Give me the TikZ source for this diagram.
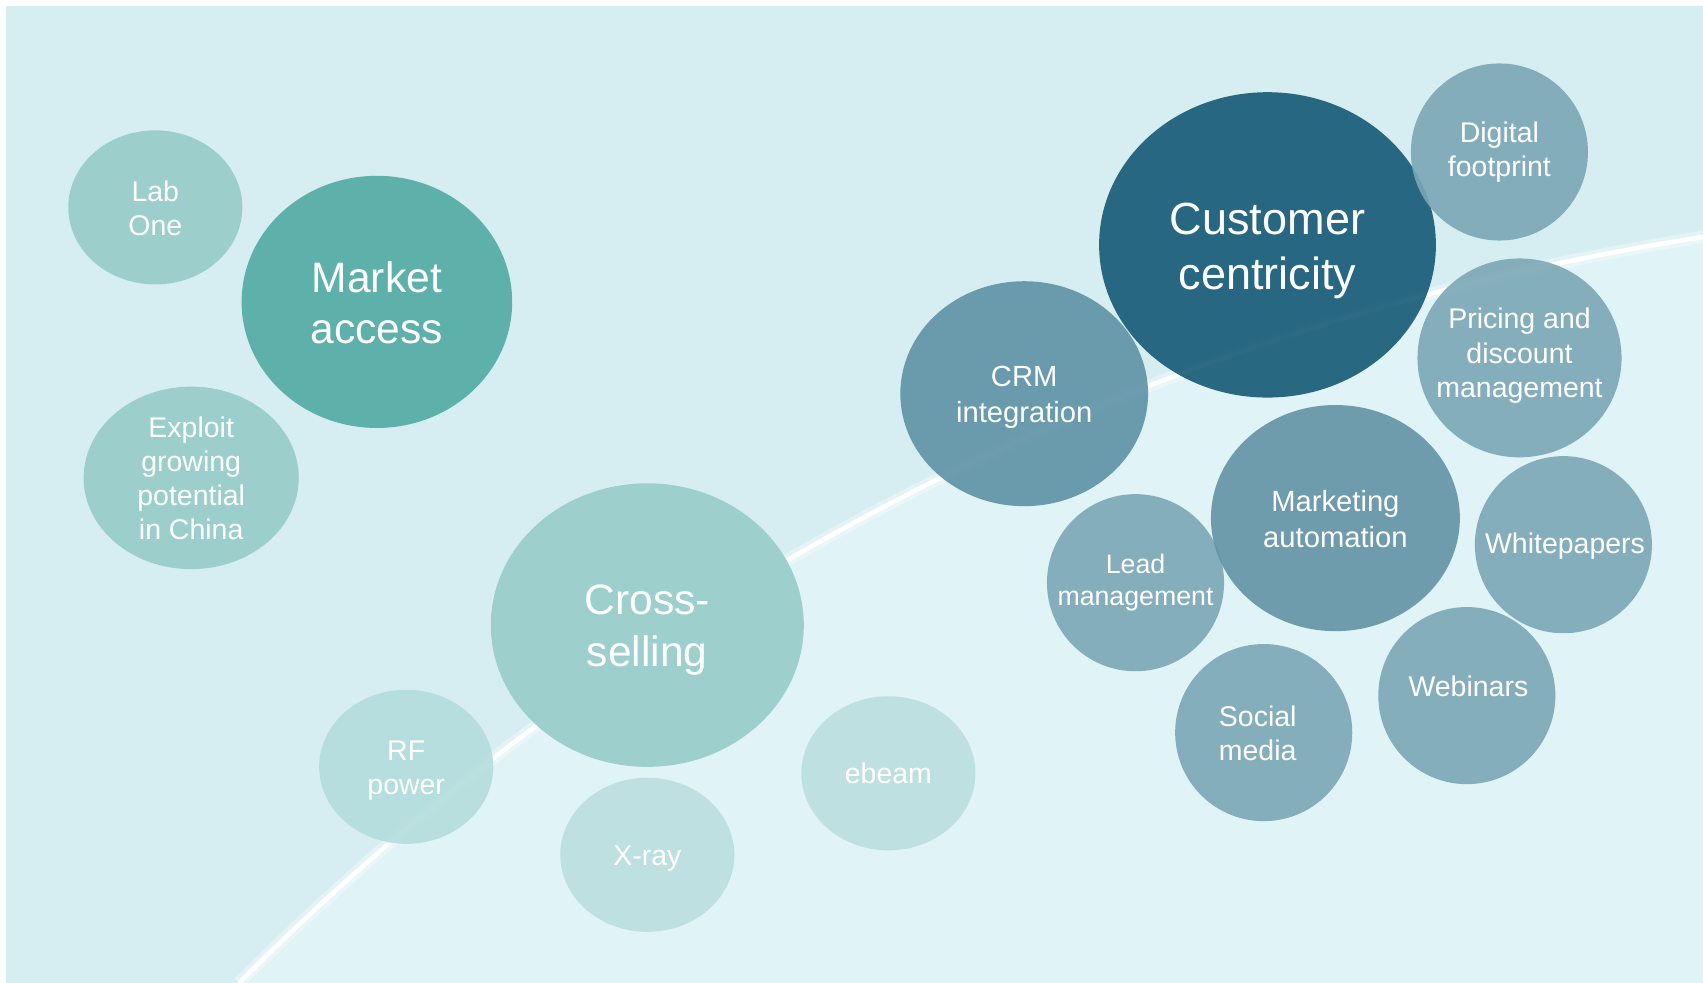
\documentclass[tikz,border=0pt]{standalone}
\usepackage{fontspec}
\setmainfont{Liberation Sans}
\usetikzlibrary{shapes.geometric}
\definecolor{bgA}{RGB}{214,238,242}
\definecolor{bgB}{RGB}{224,243,246}
\definecolor{tealL}{RGB}{150,204,200}
\definecolor{tealCS}{RGB}{157,207,204}
\definecolor{tealM}{RGB}{82,171,164}
\definecolor{tealXL}{RGB}{180,221,220}
\definecolor{tealXXL}{RGB}{188,223,222}
\definecolor{navy}{RGB}{22,89,117}
\definecolor{blueM}{RGB}{94,146,166}
\definecolor{blueM2}{RGB}{99,147,165}
\definecolor{blueS}{RGB}{124,167,182}
\tikzset{
  bub/.style={ellipse, inner sep=0pt, fill opacity=0.9},
  tx/.style={inner sep=0pt, align=center, text=white},
  bigtxt/.style={tx, font=\fontsize{12.1}{14.6}\selectfont},
  cctxt/.style={tx, font=\fontsize{12.8}{15.4}\selectfont},
  medtxt/.style={tx, font=\fontsize{8.3}{10.3}\selectfont},
  smtxt/.style={tx, font=\fontsize{8.1}{9.7}\selectfont},
  ldtxt/.style={tx, font=\fontsize{7.6}{9.3}\selectfont},
  sm/.style={bub, minimum width=1.77cm, minimum height=1.77cm},
  smt/.style={bub, minimum width=1.74cm, minimum height=1.54cm}
}
\begin{document}
\begin{tikzpicture}[x=0.01cm, y=-0.01cm]
\useasboundingbox (0,0) rectangle (1703,983);
\fill[white] (0,0) rectangle (1703,983);
\fill[bgA] (6,6) rectangle (1703,983);
\fill[bgB] (239,983) .. controls (600,620) and (1100,330) .. (1703,237) -- (1703,983) -- cycle;
\coordinate (arcA) at (239,983);
\coordinate (arcB) at (1703,237);
\draw[white, opacity=0.35, line width=3.5pt] (arcA) .. controls (600,620) and (1100,330) .. (arcB);
\draw[white, line width=1.3pt] (arcA) .. controls (600,620) and (1100,330) .. (arcB);

% left group
\node[smt, fill=tealL] (lab) at (155.3,207.4) {};
\node[smtxt] (lab-t) at (155.3,208) {Lab\\One};
\node[bub, fill=tealM, minimum width=2.704cm, minimum height=2.52cm] (market) at (376.9,301.9) {};
\node[bigtxt] (market-t) at (376.9,303) {Market\\access};
\node[bub, fill=tealL, minimum width=2.15cm, minimum height=1.824cm] (exploit) at (191.2,477.9) {};
\node[smtxt] (exploit-t) at (191.2,478.5) {Exploit\\growing\\potential\\in China};

% cross-selling group
\node[bub, fill=tealCS, fill opacity=1, minimum width=3.128cm, minimum height=2.834cm] (cross) at (647.3,625.1) {};
\node[bigtxt] (cross-t) at (647.3,629.9) {Cross-\\selling};
\node[smt, fill=tealXL] (rf) at (406.2,766.8) {};
\node[smtxt] (rf-t) at (406.2,771.1) {RF\\power};
\node[smt, fill=tealXXL] (xray) at (647.3,854.8) {};
\node[smtxt] (xray-t) at (647.3,859.1) {X-ray};
\node[smt, fill=tealXXL] (ebeam) at (888.4,773.3) {};
\node[smtxt] (ebeam-t) at (888.4,773.3) {ebeam};

% customer centricity group
\node[bub, fill=blueM, minimum width=2.476cm, minimum height=2.248cm] (crm) at (1024.2,393.7) {};
\node[medtxt] (crm-t) at (1024.2,397) {CRM\\integration};
\node[bub, fill=navy, minimum width=3.366cm, minimum height=3.052cm] (cc) at (1267.5,244.9) {};
\node[cctxt] (cc-t) at (1267.5,250.9) {Customer\\centricity};
\node[sm, fill=blueS] (digital) at (1499.4,152) {};
\node[smtxt] (digital-t) at (1499.4,152.5) {Digital\\footprint};
\node[bub, fill=blueS, minimum width=2.04cm, minimum height=1.988cm] (pricing) at (1519.5,357.9) {};
\node[smtxt] (pricing-t) at (1519.5,355.7) {Pricing and\\discount\\management};
\node[sm, fill=blueS] (lead) at (1135.5,582.7) {};
\node[ldtxt] (lead-t) at (1135.5,582.7) {Lead\\management};
\node[bub, fill=blueM2, minimum width=2.488cm, minimum height=2.26cm] (mkt) at (1335.4,518.1) {};
\node[medtxt] (mkt-t) at (1335.4,519) {Marketing\\automation};
\node[sm, fill=blueS] (white) at (1563.4,544.7) {};
\node[smtxt] (white-t) at (1565,546.3) {Whitepapers};
\node[sm, fill=blueS] (webinars) at (1466.8,695.6) {};
\node[smtxt] (webinars-t) at (1468.4,686.4) {Webinars};
\node[sm, fill=blueS] (social) at (1263.7,732.6) {};
\node[smtxt] (social-t) at (1257.7,733) {Social\\media};
\end{tikzpicture}
\end{document}
